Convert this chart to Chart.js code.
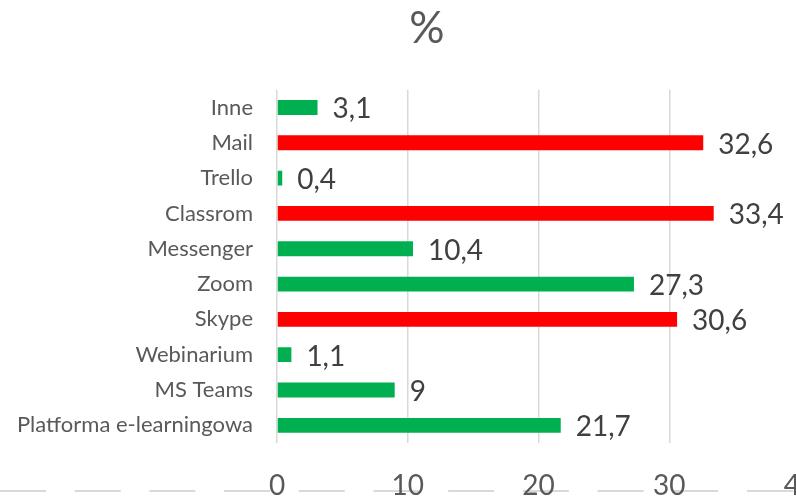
<!DOCTYPE html>
<html>
<head>
<meta charset="utf-8">
<script src="https://cdn.jsdelivr.net/npm/chart.js@4.4.0/dist/chart.umd.min.js"></script>
<style>
    body { margin: 0; background: #fff; overflow: hidden; }
    #wrap { width: 854px; height: 497px; }
</style>
</head>
<body>
<div id="wrap"><canvas id="narzedziaChart" width="854" height="497"></canvas></div>
<script>
// Dane
const kategorie = ['Inne', 'Mail', 'Trello', 'Classrom', 'Messenger', 'Zoom', 'Skype', 'Webinarium', 'MS Teams', 'Platforma e-learningowa'];
const wartosci = [3.1, 32.6, 0.4, 33.4, 10.4, 27.3, 30.6, 1.1, 9, 21.7];
const wyroznione = ['Mail', 'Classrom', 'Skype'];
const osX = [0, 10, 20, 30, 40];

const ZIELONY = '#00B050';
const CZERWONY = '#FF0000';
const FONT = 'Lato, "Open Sans", sans-serif';

const kolory = kategorie.map(k => wyroznione.includes(k) ? CZERWONY : ZIELONY);

// etykiety wartosci po prawej stronie slupkow
const etykietyPlugin = {
    id: 'etykiety',
    afterDatasetsDraw(chart) {
        const ctx = chart.ctx;
        const meta = chart.getDatasetMeta(0);
        ctx.save();
        ctx.font = '28px ' + FONT;
        ctx.fillStyle = '#404040';
        ctx.textAlign = 'left';
        ctx.textBaseline = 'middle';
        meta.data.forEach((bar, i) => {
            const txt = String(wartosci[i]).replace('.', ',');
            ctx.fillText(txt, bar.x + 15, bar.y + 2);
        });
        ctx.restore();
    }
};

// przerywana linia na dole + poszerzenie obszaru etykiet osi Y (zeby nic nie bylo uciete)
const liniaPlugin = {
    id: 'liniaDol',
    afterLayout(chart) {
        chart.scales.y.left = 0;
    },
    beforeDraw(chart) {
        const ctx = chart.ctx;
        ctx.save();
        ctx.strokeStyle = '#d9d9d9';
        ctx.lineWidth = 2;
        ctx.setLineDash([46, 28.7]);
        ctx.beginPath();
        ctx.moveTo(0, 491);
        ctx.lineTo(chart.width, 491);
        ctx.stroke();
        ctx.restore();
    }
};

const ctx = document.getElementById('narzedziaChart').getContext('2d');
new Chart(ctx, {
    type: 'bar',
    data: {
        labels: kategorie,
        datasets: [{
            data: wartosci,
            backgroundColor: kolory,
            borderWidth: 0,
            categoryPercentage: 0.42,
            barPercentage: 1
        }]
    },
    options: {
        indexAxis: 'y',
        responsive: false,
        animation: false,
        devicePixelRatio: 1,
        layout: { padding: { left: 54, right: 54, top: 0, bottom: 0 } },
        scales: {
            x: {
                min: osX[0],
                max: osX[osX.length - 1],
                afterBuildTicks: (s) => { s.ticks = osX.map(v => ({ value: v })); },
                afterFit: (s) => { s.height = 54; },
                grid: { color: '#d9d9d9', lineWidth: 1.5, drawTicks: false },
                border: { display: false },
                ticks: {
                    color: '#595959',
                    font: { family: FONT, size: 28 },
                    padding: 26,
                    maxRotation: 0
                }
            },
            y: {
                afterFit: (s) => { s.width = 223; },
                grid: { display: false },
                border: { display: false },
                ticks: {
                    color: '#595959',
                    font: { family: FONT, size: 22 },
                    padding: 16,
                    autoSkip: false
                }
            }
        },
        plugins: {
            legend: { display: false },
            tooltip: { enabled: false },
            title: {
                display: true,
                text: '%',
                color: '#595959',
                font: { family: FONT, size: 44, weight: 'normal' },
                padding: { top: 2, bottom: 35 }
            }
        }
    },
    plugins: [liniaPlugin, etykietyPlugin]
});
</script>
</body>
</html>
